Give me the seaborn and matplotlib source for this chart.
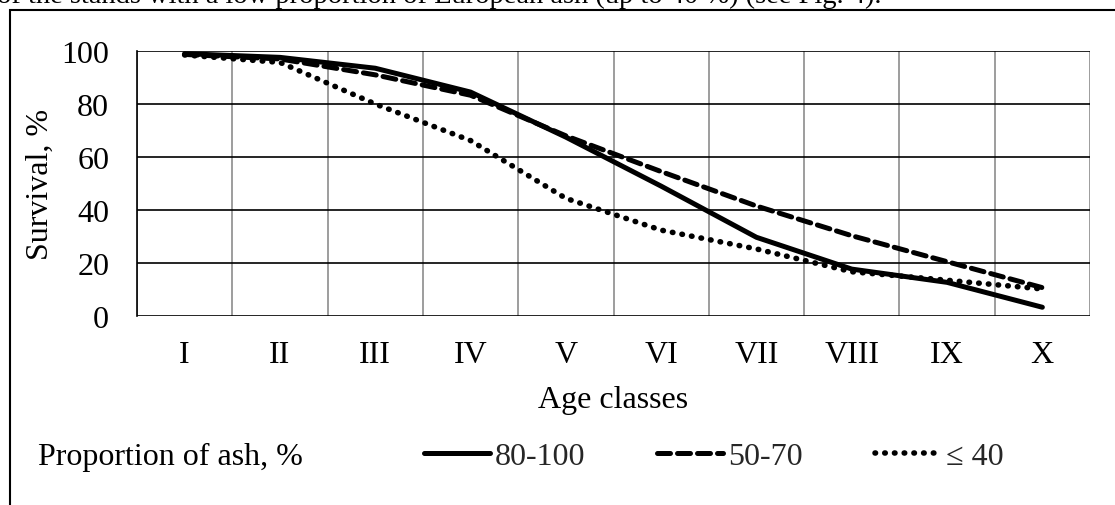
import matplotlib
matplotlib.use("Agg")
import matplotlib.pyplot as plt
from matplotlib.patches import Rectangle
import seaborn as sns
import pandas as pd

age_classes = ["I", "II", "III", "IV", "V", "VI", "VII", "VIII", "IX", "X"]
groups = ["80-100", "50-70", "\u2264 40"]
surv_80_100 = [99.0, 97.6, 93.5, 84.5, 67.5, 49.0, 29.7, 17.7, 12.7, 3.3]
surv_50_70 = [98.7, 97.0, 91.0, 83.3, 68.0, 54.5, 41.5, 30.3, 20.5, 10.7]
surv_le_40 = [98.5, 95.7, 80.0, 66.2, 44.4, 32.4, 25.3, 16.7, 13.5, 10.2]
y_ticks = [0, 20, 40, 60, 80, 100]

df = pd.DataFrame({
    "age": age_classes * 3,
    "survival": surv_80_100 + surv_50_70 + surv_le_40,
    "group": [groups[0]] * 10 + [groups[1]] * 10 + [groups[2]] * 10,
})

sns.set_theme(style="white")
plt.rcParams["font.family"] = ["Liberation Serif", "DejaVu Serif"]
FS = 23

fig = plt.figure(figsize=(11.15, 5.06), dpi=100)
ax = fig.add_axes([137 / 1115, 1 - 317 / 506, (1090 - 137) / 1115, (317 - 52) / 506])

sns.lineplot(data=df, x="age", y="survival", hue="group", style="group",
             hue_order=groups, style_order=groups,
             palette=["black"] * 3,
             dashes={groups[0]: "", groups[1]: (2.6, 1.4), groups[2]: (0.1, 1.65)},
             linewidth=3.6, sort=False, legend=False, ax=ax, zorder=3)
for ln in ax.lines:
    ln.set_dash_capstyle("round")
    ln.set_solid_capstyle("round")
ax.lines[2].set_linewidth(4.0)

ax.set_xlim(-0.5, len(age_classes) - 0.5)
ax.set_ylim(0, 100)
ax.set_yticks(y_ticks)
ax.set_xticks(range(len(age_classes)))
ax.set_xticklabels(age_classes)
ax.set_xticks([i - 0.5 for i in range(len(age_classes) + 1)], minor=True)
ax.grid(False)
ax.grid(True, axis="y", which="major", color="black", lw=1.2, zorder=1)
ax.grid(True, axis="x", which="minor", color="#8c8c8c", lw=1.2, zorder=1)
ax.tick_params(axis="both", which="both", length=0, labelsize=FS, colors="black")
ax.tick_params(axis="x", pad=17)
ax.tick_params(axis="y", pad=20)
for s in ["top", "right", "bottom"]:
    ax.spines[s].set_visible(False)
ax.spines["left"].set_color("black")
ax.spines["left"].set_linewidth(1.2)

ax.set_xlabel("Age classes", fontsize=FS, color="black")
ax.set_ylabel("Survival, %", fontsize=FS, color="black")
ax.xaxis.set_label_coords(0.5, -0.262)
ax.yaxis.set_label_coords(-0.086, 0.5)

fig.text(38 / 1115, 1 - 465 / 506, "Proportion of ash, %", fontsize=FS,
         ha="left", va="baseline", color="black")
fig.legend(handles=ax.lines[:3], labels=groups, loc="center left",
           bbox_to_anchor=(424 / 1115, 1 - 457 / 506), ncol=3, frameon=False,
           fontsize=FS, handlelength=2.07, handletextpad=0.15,
           columnspacing=2.25, borderpad=0, borderaxespad=0)

fig.text(-0.003, 1 - 3 / 506,
         "of the stands with a low proportion of European ash (up to 40 %) (see Fig. 4).",
         fontsize=20.5, ha="left", va="baseline", color="black")

fig.add_artist(Rectangle((10 / 1115, -0.2), 1.5, 1.2 - 11 / 506,
                         transform=fig.transFigure, fill=False,
                         edgecolor="black", lw=1.5))

fig.savefig("out.png", dpi=100)
